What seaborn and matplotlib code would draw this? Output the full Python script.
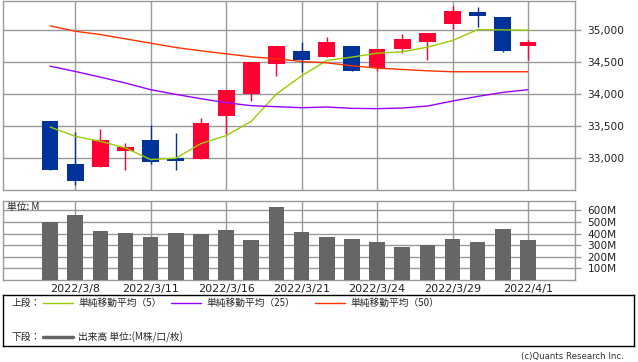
import matplotlib
matplotlib.use("Agg")
import matplotlib.pyplot as plt
import numpy as np
import pandas as pd
import seaborn as sns

# daily data
dates = ["2022/3/7", "2022/3/8", "2022/3/9", "2022/3/10", "2022/3/11",
         "2022/3/14", "2022/3/15", "2022/3/16", "2022/3/17", "2022/3/18",
         "2022/3/21", "2022/3/22", "2022/3/23", "2022/3/24", "2022/3/25",
         "2022/3/28", "2022/3/29", "2022/3/30", "2022/3/31", "2022/4/1"]
opens = [33578, 32896, 32849, 33099, 33281, 33000, 32974, 33646, 33990, 34458,
         34672, 34568, 34750, 34396, 34693, 34813, 35099, 35281, 35203, 34740]
highs = [33578, 33406, 33453, 33234, 33510, 33391, 33625, 34063, 34490, 34750,
         34813, 34891, 34750, 34703, 34938, 34953, 35375, 35359, 35203, 34844]
lows = [32802, 32567, 32849, 32802, 32896, 32802, 32974, 33375, 33880, 34271,
        34333, 34568, 34349, 34349, 34630, 34531, 35016, 35052, 34656, 34531]
closes = [32802, 32630, 33281, 33172, 32927, 32945, 33547, 34063, 34490, 34750,
          34531, 34813, 34349, 34703, 34859, 34953, 35297, 35224, 34672, 34813]
ma5 = [33479, 33333, 33255, 33151, 32969, 32990, 33219, 33344, 33568, 33995,
       34280, 34521, 34573, 34635, 34656, 34729, 34833, 35005, 35000, 34995]
ma25 = [34432, 34349, 34260, 34167, 34063, 33990, 33922, 33859, 33813, 33797,
        33781, 33792, 33771, 33766, 33776, 33807, 33885, 33958, 34021, 34063]
ma50 = [35063, 34979, 34927, 34859, 34792, 34724, 34672, 34625, 34578, 34547,
        34505, 34484, 34438, 34401, 34380, 34359, 34344, 34344, 34344, 34344]
volume_m = [503, 560, 425, 405, 371, 405, 399, 434, 348, 629,
            417, 371, 356, 330, 287, 302, 356, 330, 443, 348]

price_ticks = [33000, 33500, 34000, 34500, 35000]
volume_ticks = [100, 200, 300, 400, 500, 600]

UP = "#ff0033"
DOWN = "#003399"
GRID = "#999999"
C_MA5 = "#99cc00"
C_MA25 = "#9900ff"
C_MA50 = "#ff3300"
C_VOL = "#666666"

df = pd.DataFrame({"date": dates, "open": opens, "high": highs, "low": lows,
                   "close": closes, "ma5": ma5, "ma25": ma25, "ma50": ma50,
                   "volume": volume_m})
df["i"] = np.arange(len(df))

sns.set_style("white")
plt.rcParams["font.family"] = ["DejaVu Sans"]
CJK = ["Noto Sans CJK JP", "DejaVu Sans"]

W, H = 638, 362
fig = plt.figure(figsize=(W / 100, H / 100), dpi=100)


def frac(x0, y0, x1, y1):
    return [x0 / W, 1 - y1 / H, (x1 - x0) / W, (y1 - y0) / H]


ax = fig.add_axes(frac(3, 0.5, 575, 189.5))
axv = fig.add_axes(frac(3, 201, 575, 280))

xlim = (-1.87, 20.87)
date_ticks = list(range(1, len(dates), 3))

# candles
colors = [UP if c > o else DOWN for o, c in zip(df["open"], df["close"])]
body = (df["close"] - df["open"]).abs().clip(lower=15)
bottom = df[["open", "close"]].min(axis=1)
ax.vlines(df["i"], df["low"], df["high"], colors=colors, lw=1, zorder=2)
ax.bar(df["i"], body, bottom=bottom, width=0.67, color=colors, zorder=3, linewidth=0)

sns.lineplot(data=df, x="i", y="ma5", color=C_MA5, lw=1, ax=ax, zorder=4)
sns.lineplot(data=df, x="i", y="ma25", color=C_MA25, lw=1, ax=ax, zorder=4)
sns.lineplot(data=df, x="i", y="ma50", color=C_MA50, lw=1, ax=ax, zorder=4)

ax.set_xlim(*xlim)
ax.set_ylim(32500, 35460)
ax.set_xticks(date_ticks)
ax.set_xticklabels([])
ax.set_yticks(price_ticks)
ax.set_yticklabels([f"{v:,}" for v in price_ticks])

# volume
sns.barplot(data=df, x="i", y="volume", color=C_VOL, width=0.62, ax=axv,
            native_scale=True, saturation=1, zorder=3, linewidth=0)
axv.set_xlim(*xlim)
axv.set_ylim(0, 680)
axv.set_xticks(date_ticks)
axv.set_xticklabels([dates[i] for i in date_ticks])
axv.set_yticks(volume_ticks)
axv.set_yticklabels([f"{v}M" for v in volume_ticks])
axv.text(0.007, 0.93, "単位: M", transform=axv.transAxes, ha="left", va="center",
         fontsize=7, family=CJK, color="#222222", zorder=5)

for a in (ax, axv):
    a.set_xlabel("")
    a.set_ylabel("")
    a.yaxis.tick_right()
    a.grid(True, color=GRID, lw=1, zorder=0)
    a.set_axisbelow(True)
    for s in a.spines.values():
        s.set_visible(True)
        s.set_color(GRID)
        s.set_linewidth(1)
    a.tick_params(axis="y", length=4, width=1, color=GRID, pad=5,
                  labelsize=7.6, labelcolor="#222222")
    a.tick_params(axis="x", length=0, pad=3, labelsize=8, labelcolor="#222222")

# legend box drawn in pixel coordinates
axl = fig.add_axes(frac(3, 295, 634, 346))
axl.set_xlim(3, 634)
axl.set_ylim(346, 295)
axl.set_xticks([])
axl.set_yticks([])
for s in axl.spines.values():
    s.set_color("black")
    s.set_linewidth(1)

row1, row2 = 303, 337
axl.text(11, row1, "上段：", fontsize=7, family=CJK, va="center")
for x0, col, label in [(43, C_MA5, "単純移動平均（5）"),
                       (171, C_MA25, "単純移動平均（25）"),
                       (315, C_MA50, "単純移動平均（50）")]:
    axl.plot([x0, x0 + 30], [row1, row1], color=col, lw=1)
    axl.text(x0 + 35, row1, label, fontsize=7, family=CJK, va="center")
axl.text(11, row2, "下段：", fontsize=7, family=CJK, va="center")
axl.plot([43, 73], [row2, row2], color=C_VOL, lw=2.5)
axl.text(78, row2, "出来高 単位:(M株/口/枚)", fontsize=7, family=CJK, va="center")

fig.text(624 / W, 1 - 357 / H, "(c)Quants Research Inc.", ha="right", va="center",
         fontsize=6.2, color="#333333")

fig.savefig("out.png", dpi=100)
